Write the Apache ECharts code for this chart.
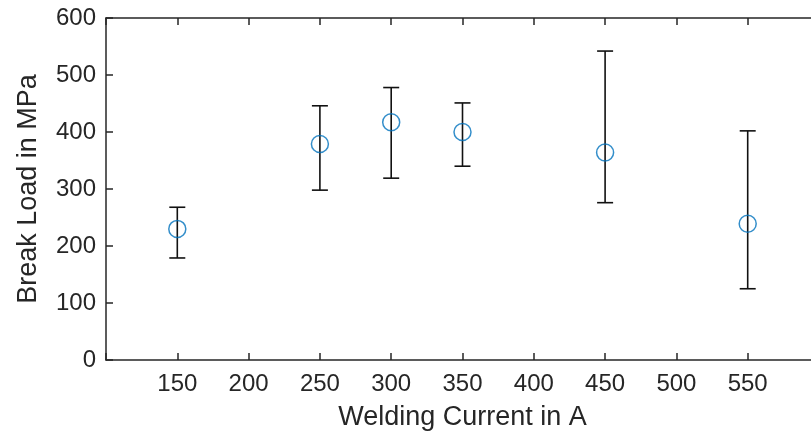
<!DOCTYPE html>
<html>
<head>
<meta charset="utf-8">
<script src="https://cdn.jsdelivr.net/npm/echarts@6/dist/echarts.min.js"></script>
<style>html,body{margin:0;padding:0;background:#fff;overflow:hidden;width:811px;height:437px}#c{width:822px;height:437px}</style>
</head>
<body>
<div id="c"></div>
<script>
// Data
const currents = [150, 250, 300, 350, 450, 550];
const meanLoad = [230, 379, 417, 400, 364, 239];
const lowerLoad = [179, 298, 319, 340, 276, 125];
const upperLoad = [268, 446, 478, 451, 542, 402];
const xTicks = [150, 200, 250, 300, 350, 400, 450, 500, 550];
const yTicks = [0, 100, 200, 300, 400, 500, 600];

const axisColor = '#262626';
const font = 'Liberation Sans, Arial, Helvetica, sans-serif';
const xMin = 100, xMax = 600;

const chart = echarts.init(document.getElementById('c'), null, {renderer: 'canvas'});

const errData = currents.map((x, i) => [x, lowerLoad[i], upperLoad[i]]);
const ptData = currents.map((x, i) => [x, meanLoad[i]]);

chart.setOption({
  animation: false,
  backgroundColor: '#fff',
  grid: {left: 106, top: 18, right: 0, bottom: 77, containLabel: false},
  xAxis: [{
    type: 'value', min: xMin, max: xMax, interval: 50, position: 'bottom',
    name: 'Welding Current in A', nameLocation: 'middle', nameGap: 44,
    nameTextStyle: {fontFamily: font, fontSize: 27, color: axisColor},
    axisLine: {show: true, onZero: false, lineStyle: {color: axisColor, width: 1.5}},
    axisTick: {show: true, inside: true, length: 7, lineStyle: {color: axisColor, width: 1.5}},
    axisLabel: {fontFamily: font, fontSize: 24, color: axisColor, margin: 12,
      formatter: v => xTicks.indexOf(v) >= 0 ? String(v) : ''},
    splitLine: {show: false}
  }, {
    type: 'value', min: xMin, max: xMax, interval: 50, position: 'top',
    axisLine: {show: true, onZero: false, lineStyle: {color: axisColor, width: 1.5}},
    axisTick: {show: true, inside: true, length: 7, lineStyle: {color: axisColor, width: 1.5}},
    axisLabel: {show: false}, splitLine: {show: false}
  }],
  yAxis: [{
    type: 'value', min: 0, max: 600, interval: 100, position: 'left',
    name: 'Break Load in MPa', nameLocation: 'middle', nameGap: 64,
    nameTextStyle: {fontFamily: font, fontSize: 27, color: axisColor},
    axisLine: {show: true, onZero: false, lineStyle: {color: axisColor, width: 1.5}},
    axisTick: {show: true, inside: true, length: 7, lineStyle: {color: axisColor, width: 1.5}},
    axisLabel: {fontFamily: font, fontSize: 24, color: axisColor, margin: 10,
      formatter: v => yTicks.indexOf(v) >= 0 ? String(v) : ''},
    splitLine: {show: false}
  }],
  series: [{
    type: 'custom',
    xAxisIndex: 0, yAxisIndex: 0,
    data: errData,
    encode: {x: 0, y: [1, 2]},
    renderItem: function (params, api) {
      const x = api.value(0);
      const lo = api.coord([x, api.value(1)]);
      const hi = api.coord([x, api.value(2)]);
      const hw = 8;
      const style = {stroke: '#111111', lineWidth: 1.6, fill: null};
      return {
        type: 'group',
        children: [
          {type: 'line', shape: {x1: lo[0], y1: lo[1], x2: hi[0], y2: hi[1]}, style: style},
          {type: 'line', shape: {x1: lo[0] - hw, y1: lo[1], x2: lo[0] + hw, y2: lo[1]}, style: style},
          {type: 'line', shape: {x1: hi[0] - hw, y1: hi[1], x2: hi[0] + hw, y2: hi[1]}, style: style}
        ]
      };
    },
    z: 2
  }, {
    type: 'scatter',
    xAxisIndex: 0, yAxisIndex: 0,
    data: ptData,
    symbol: 'circle',
    symbolSize: 17,
    itemStyle: {color: 'rgba(0,0,0,0)', borderColor: '#0072BD', borderWidth: 1.5},
    z: 3
  }]
});
</script>
</body>
</html>
